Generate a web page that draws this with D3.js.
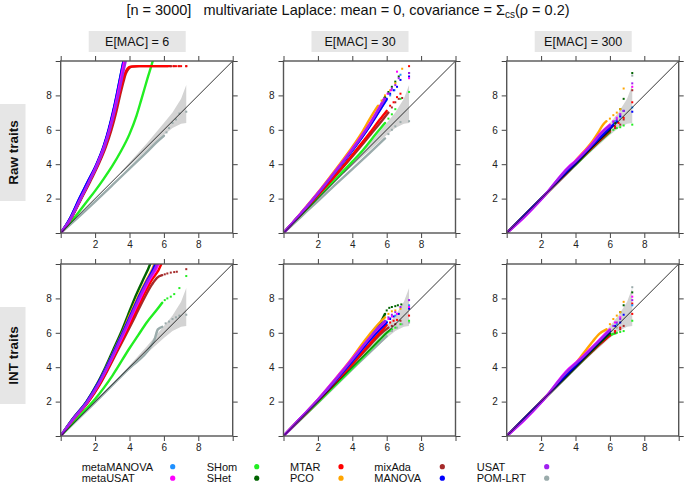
<!DOCTYPE html>
<html><head><meta charset="utf-8">
<script src="https://cdn.jsdelivr.net/npm/d3@7"></script>
<style>body{margin:0;background:#fff}svg{display:block;font-family:"Liberation Sans",Arial,Helvetica,sans-serif}</style>
</head><body><svg id="c" width="685" height="483"></svg>
<script>
// ---------- data ----------
const methods = ["metaMANOVA","metaUSAT","SHom","SHet","MTAR","PCO","mixAda","MANOVA","USAT","POM-LRT"];
const methodColors = ["#1E90FF","#FF00FF","#22EE22","#006400","#FF0000","#FFA500","#A52A2A","#0000FF","#A020F0","#9AABAB"];
const drawOrder = ["POM-LRT","SHom","mixAda","MTAR","metaMANOVA","SHet","PCO","MANOVA","metaUSAT","USAT"];
const macLevels = ["E[MAC] = 6","E[MAC] = 30","E[MAC] = 300"];
const traitTypes = ["Raw traits","INT traits"];
const axisTicks = [0,2,4,6,8,10];
const tickLabels = [2,4,6,8];
const bandX = [3.5,4,4.5,5,5.5,6,6.5,7,7.3];
const bandLower = [3.45,3.9,4.35,4.8,5.25,5.7,6.1,6.35,6.4];
const bandUpper = [3.55,4.1,4.65,5.2,5.8,6.4,7.0,7.8,8.6];

// Raw traits, E[MAC]=6
const raw6Lines = {
  "metaMANOVA":[[0,0],[0.5,0.75],[1.1,2],[1.6,3],[2.1,4],[2.5,5],[2.8,6],[3.05,7],[3.25,8],[3.45,9],[3.65,10],[3.75,10.5]],
  "MANOVA":[[0,0],[0.5,0.78],[1.08,2],[1.58,3],[2.08,4],[2.48,5],[2.78,6],[3.03,7],[3.25,8],[3.45,9],[3.65,10],[3.75,10.5]],
  "SHet":[[0,0],[0.5,0.75],[1.1,2],[1.6,3],[2.1,4],[2.5,5],[2.8,6],[3.05,7],[3.27,8],[3.47,9],[3.67,10],[3.77,10.5]],
  "PCO":[[0,0],[0.5,0.74],[1.12,2],[1.62,3],[2.11,4],[2.51,5],[2.81,6],[3.07,7],[3.28,8],[3.48,9],[3.68,10],[3.78,10.5]],
  "metaUSAT":[[0,0],[0.5,0.7],[1.15,2],[1.65,3],[2.12,4],[2.52,5],[2.83,6],[3.08,7],[3.3,8],[3.5,9],[3.7,10],[3.8,10.5]],
  "USAT":[[0,0],[0.5,0.68],[1.17,2],[1.67,3],[2.15,4],[2.55,5],[2.86,6],[3.12,7],[3.35,8],[3.56,9],[3.78,10],[3.88,10.5]],
  "MTAR":[[0,0],[0.5,0.68],[1.18,2],[1.68,3],[2.17,4],[2.58,5],[2.9,6],[3.17,7],[3.4,8],[3.6,8.8],[3.75,9.3],[3.88,9.55],[4.05,9.67],[4.5,9.7],[6.4,9.7]],
  "mixAda":[[0,0],[0.5,0.66],[1.2,2],[1.72,3],[2.2,4],[2.62,5],[2.95,6],[3.22,7],[3.45,8],[3.65,8.8],[3.8,9.3],[3.95,9.55],[4.15,9.67],[4.6,9.7],[6.2,9.7]],
  "SHom":[[0,0],[0.5,0.55],[1,1.15],[1.5,1.8],[2,2.45],[2.5,3.15],[3,3.9],[3.5,4.75],[4,5.75],[4.4,6.8],[4.7,7.8],[5.05,9],[5.35,10],[5.45,10.4]],
  "POM-LRT":[[0,0],[1,0.9],[2,1.83],[3,2.78],[4,3.74],[5,4.7],[5.6,5.3],[6,5.65]]
};
const raw6Tails = {
  "MTAR":[[6.55,9.7],[6.7,9.7],[6.85,9.7],[7.0,9.7],[7.3,9.7]],
  "mixAda":[[6.4,9.7],[6.6,9.7],[6.9,9.7],[7.3,9.7]],
  "POM-LRT":[[6.15,5.85],[6.3,6.1],[6.5,6.4],[6.7,6.6],[6.9,6.95],[7.3,7.05]]
};

// Raw traits, E[MAC]=30
const raw30Lines = {
  "PCO":[[0,0],[1,1.15],[2,2.35],[3,3.65],[4,5.0],[4.5,5.75],[5,6.6],[5.3,7.1],[5.5,7.4]],
  "USAT":[[0,0],[1,1.12],[2,2.3],[3,3.55],[4,4.85],[5,6.3],[5.6,7.3],[5.9,7.8]],
  "metaUSAT":[[0,0],[1,1.13],[2,2.32],[3,3.58],[4,4.9],[5,6.35],[5.6,7.35],[5.85,7.8]],
  "MANOVA":[[0,0],[1,1.12],[2,2.3],[3,3.55],[4,4.8],[5,6.2],[5.7,7.3],[6,7.8]],
  "metaMANOVA":[[0,0],[1,1.12],[2,2.3],[3,3.54],[4,4.8],[5,6.2],[5.7,7.3],[6,7.75]],
  "SHet":[[0,0],[1,1.12],[2,2.3],[3,3.55],[4,4.85],[5,6.25],[5.6,7.3],[5.9,7.9]],
  "MTAR":[[0,0],[1,1.1],[2,2.2],[3,3.35],[4,4.55],[5,5.8],[5.6,6.6],[6,7.1]],
  "mixAda":[[0,0],[1,1.08],[2,2.18],[3,3.3],[4,4.45],[5,5.65],[5.7,6.5],[6.1,7.0]],
  "SHom":[[0,0],[1,1.03],[2,2.07],[3,3.1],[4,4.15],[4.6,4.8],[5.4,5.8],[5.9,6.4]],
  "POM-LRT":[[0,0],[1,0.93],[2,1.86],[3,2.8],[4,3.72],[5,4.65],[5.9,5.5]]
};
const raw30Tails = {
  "PCO":[[5.7,7.7],[5.9,8.0],[6.2,8.3],[6.5,8.7],[6.9,9.55]],
  "USAT":[[6.1,8.1],[6.3,8.4],[6.5,8.6],[6.7,9.0],[7.3,9.3]],
  "metaUSAT":[[6.05,8.1],[6.25,8.3],[6.6,9.38],[7.3,9.0]],
  "MANOVA":[[6.2,8.1],[6.4,8.3],[6.6,8.5],[6.8,8.9],[7.3,9.1]],
  "metaMANOVA":[[6.2,8.0],[6.45,8.3],[6.8,9.2]],
  "SHet":[[6.1,8.2],[6.3,8.5],[6.5,8.8],[6.7,9.1],[7.3,9.3]],
  "MTAR":[[6.2,7.4],[6.4,7.6],[6.6,7.9],[6.8,8.1],[7.3,9.7]],
  "mixAda":[[6.3,7.3],[6.5,7.6],[6.7,7.8],[6.9,7.85]],
  "SHom":[[6.1,6.65],[6.3,6.9],[6.5,7.2],[6.8,7.8],[7.3,8.2]],
  "POM-LRT":[[6.1,5.75],[6.3,6.0],[6.5,6.2],[6.8,6.45],[7.3,6.5]]
};

// Raw traits, E[MAC]=300
const raw300Lines = {
  "PCO":[[0,0],[2,2],[3.6,3.7],[4,4.2],[4.5,4.75],[5,5.35],[5.3,5.8],[5.6,6.3],[5.8,6.5]],
  "USAT":[[0,0],[1,0.92],[2,1.95],[3.6,3.8],[4,4.15],[4.5,4.65],[5,5.2],[5.5,5.8],[6,6.25]],
  "metaUSAT":[[0,0],[1,0.9],[2,1.93],[3.6,3.85],[4,4.2],[4.5,4.7],[5,5.25],[5.5,5.85],[6,6.3]],
  "MANOVA":[[0,0],[2,2],[3.6,3.65],[4,4.05],[5,5.1],[6,6.1],[6.4,6.5]],
  "metaMANOVA":[[0,0],[2,2],[3.6,3.65],[4,4.05],[5,5.12],[6,6.15]],
  "SHet":[[0,0],[2,2],[3.6,3.62],[4,4.0],[5,5.05],[6,6.0]],
  "MTAR":[[0,0],[2,2],[3.6,3.6],[4,4.0],[5,5.0],[6,5.95]],
  "mixAda":[[0,0],[2,2],[3.6,3.6],[5,4.98],[6,5.9]],
  "SHom":[[0,0],[2,2],[3.6,3.6],[4,3.98],[5,4.95],[5.6,5.5],[6,5.85]],
  "POM-LRT":[[0,0],[2,1.98],[3.6,3.55],[4,3.95],[5,4.95],[6,5.95]]
};
const raw300Tails = {
  "PCO":[[6.0,6.65],[6.2,6.85],[6.4,7.0],[6.6,7.2],[6.8,8.4]],
  "USAT":[[6.2,6.45],[6.4,6.6],[6.6,6.9],[6.8,7.1],[7.3,8.7]],
  "metaUSAT":[[6.2,6.5],[6.4,6.7],[6.6,6.9],[7.3,8.5]],
  "MANOVA":[[6.6,6.8],[6.8,7.1],[7.3,7.05]],
  "metaMANOVA":[[6.3,6.5],[6.6,6.75],[7.3,7.3]],
  "SHet":[[6.3,6.4],[6.6,7.2],[6.8,7.8],[7.3,9.3]],
  "MTAR":[[6.3,6.2],[6.5,6.4],[6.8,6.7],[7.3,7.6]],
  "mixAda":[[6.3,6.1],[6.6,6.3],[6.8,6.6],[7.3,8.3]],
  "SHom":[[6.2,6.0],[6.4,6.1],[6.6,6.15],[6.8,6.25],[7.3,6.3]],
  "POM-LRT":[[6.3,6.3],[6.6,6.6],[7.3,9.15]]
};

// INT traits, E[MAC]=6
const int6Lines = {
  "SHet":[[0,0],[0.7,1],[1.5,2],[2.1,3],[2.6,4],[3.05,5],[3.5,6],[3.9,7],[4.3,8],[4.75,9],[5.2,10],[5.3,10.3]],
  "PCO":[[0,0],[0.72,1],[1.53,2],[2.15,3],[2.65,4],[3.12,5],[3.58,6],[4.0,7],[4.45,8],[4.95,9],[5.45,10],[5.55,10.3]],
  "metaMANOVA":[[0,0],[0.72,1],[1.52,2],[2.14,3],[2.66,4],[3.14,5],[3.6,6],[4.05,7],[4.5,8],[5.0,9],[5.5,10],[5.6,10.3]],
  "MANOVA":[[0,0],[0.71,1],[1.51,2],[2.13,3],[2.65,4],[3.13,5],[3.6,6],[4.05,7],[4.5,8],[5.0,9],[5.5,10],[5.6,10.3]],
  "USAT":[[0,0],[0.74,1],[1.55,2],[2.18,3],[2.7,4],[3.18,5],[3.65,6],[4.1,7],[4.55,8],[5.05,9],[5.6,10],[5.7,10.3]],
  "metaUSAT":[[0,0],[0.75,1],[1.57,2],[2.2,3],[2.73,4],[3.22,5],[3.7,6],[4.15,7],[4.62,8],[5.12,9],[5.68,10],[5.78,10.3]],
  "MTAR":[[0,0],[0.76,1],[1.6,2],[2.25,3],[2.78,4],[3.28,5],[3.78,6],[4.25,7],[4.72,8],[5.25,9],[5.85,10],[5.95,10.3]],
  "mixAda":[[0,0],[0.78,1],[1.62,2],[2.28,3],[2.82,4],[3.33,5],[3.85,6],[4.35,7],[4.85,8],[5.3,8.8],[5.6,9.2],[5.9,9.35]],
  "SHom":[[0,0],[1,1.08],[2,2.15],[3,3.5],[4,5.1],[4.5,5.85],[5,6.6],[5.6,7.35],[5.9,7.75]],
  "POM-LRT":[[0,0],[2,1.96],[4,3.95],[5.2,5.15],[5.45,5.6],[5.65,6.2],[5.9,6.35]]
};
const int6Tails = {
  "mixAda":[[6.05,9.4],[6.2,9.45],[6.4,9.5],[6.6,9.53],[6.75,9.55],[7.3,9.7]],
  "SHom":[[6.05,7.9],[6.2,8.0],[6.4,8.1],[6.6,8.25],[6.9,8.6],[7.3,9.3]],
  "POM-LRT":[[6.1,6.55],[6.3,6.65],[6.5,6.8],[6.7,6.9],[6.9,7.0],[7.3,7.05]]
};

// INT traits, E[MAC]=30
const int30Lines = {
  "PCO":[[0,0],[1,1.05],[2,2.12],[3,3.3],[4,4.55],[4.5,5.25],[5,5.9],[5.5,6.5],[5.9,6.9]],
  "USAT":[[0,0],[1,1.05],[2,2.1],[3,3.25],[4,4.45],[5,5.7],[5.5,6.3],[5.9,6.7]],
  "metaUSAT":[[0,0],[1,1.06],[2,2.12],[3,3.3],[3.5,3.9],[4,4.5],[5,5.7],[5.6,6.35],[5.9,6.65]],
  "MANOVA":[[0,0],[1,1.04],[2,2.08],[3,3.2],[4,4.35],[5,5.55],[5.6,6.2],[6,6.6]],
  "metaMANOVA":[[0,0],[1,1.04],[2,2.08],[3,3.2],[4,4.36],[5,5.58],[5.6,6.25],[6,6.65]],
  "SHet":[[0,0],[1,1.04],[2,2.08],[3,3.2],[4,4.4],[5,5.65],[5.6,6.5],[5.9,7.1]],
  "MTAR":[[0,0],[1,1.02],[2,2.05],[3,3.1],[4,4.2],[5,5.35],[5.5,5.9],[6,6.45]],
  "mixAda":[[0,0],[2,2.03],[4,4.15],[5,5.25],[5.6,5.9],[6.1,6.3]],
  "SHom":[[0,0],[1,0.98],[2,1.95],[3,2.95],[4,3.95],[5,4.98],[5.6,5.6],[6,6.0],[6.3,6.2]],
  "POM-LRT":[[0,0],[2,1.93],[4,3.88],[5,4.85],[6,5.8]]
};
const int30Tails = {
  "PCO":[[6.1,7.1],[6.3,7.25],[6.5,7.3],[6.8,7.4]],
  "USAT":[[6.1,6.9],[6.3,7.05],[6.5,7.2],[6.8,7.5],[7.3,7.9]],
  "metaUSAT":[[6.1,6.8],[6.3,6.95],[6.6,7.1],[7.3,7.5]],
  "MANOVA":[[6.2,6.8],[6.4,6.95],[6.7,7.1],[7.3,7.4]],
  "metaMANOVA":[[6.2,6.85],[6.5,7.0],[7.3,7.6]],
  "SHet":[[6.0,7.3],[6.15,7.45],[6.3,7.5],[6.5,7.55],[6.65,7.6],[6.85,7.65]],
  "MTAR":[[6.2,6.6],[6.4,6.7],[6.6,6.75],[7.3,7.0]],
  "mixAda":[[6.3,6.4],[6.5,6.5],[6.8,6.7]],
  "SHom":[[6.5,6.3],[6.8,6.5],[7.3,6.7]],
  "POM-LRT":[[6.3,6.1],[6.6,6.3],[6.9,6.5],[7.3,6.6]]
};

// INT traits, E[MAC]=300
const int300Lines = {
  "PCO":[[0,0],[2,2.02],[3.6,3.7],[4,4.2],[4.5,4.85],[5,5.5],[5.4,5.95],[5.8,6.2]],
  "USAT":[[0,0],[1,0.92],[2,1.95],[3.6,3.85],[4,4.2],[4.5,4.65],[5,5.15],[5.5,5.65],[6,6.15]],
  "metaUSAT":[[0,0],[1,0.9],[2,1.93],[3.6,3.9],[4,4.25],[4.5,4.7],[5,5.2],[5.5,5.7],[6,6.2]],
  "MANOVA":[[0,0],[2,2],[3.6,3.65],[4,4.05],[5,5.1],[6,6.1]],
  "metaMANOVA":[[0,0],[2,2],[3.6,3.65],[4,4.05],[5,5.1],[6,6.15]],
  "SHet":[[0,0],[2,2],[3.6,3.6],[4,4.0],[5,5.0],[6,5.95]],
  "MTAR":[[0,0],[2,2],[3.6,3.6],[5,4.98],[6,5.85]],
  "mixAda":[[0,0],[2,2],[3.6,3.6],[5,4.95],[6,5.85]],
  "SHom":[[0,0],[2,2],[3.6,3.6],[5,4.95],[6,5.85],[6.4,6.0]],
  "POM-LRT":[[0,0],[2,1.98],[3.6,3.55],[5,4.95],[6,5.95]]
};
const int300Tails = {
  "PCO":[[6.0,6.5],[6.2,6.8],[6.4,7.0],[6.6,7.2],[6.8,7.8]],
  "USAT":[[6.2,6.4],[6.4,6.6],[6.6,6.8],[7.3,7.9]],
  "metaUSAT":[[6.3,6.6],[6.6,6.9],[7.3,8.1]],
  "MANOVA":[[6.3,6.4],[6.6,6.6],[6.8,7.05]],
  "metaMANOVA":[[6.4,6.5],[7.3,7.6]],
  "SHet":[[6.6,7.2],[6.8,7.6],[7.3,8.35]],
  "MTAR":[[6.3,6.1],[6.6,6.3],[7.3,7.1],[7.3,7.7]],
  "mixAda":[[6.3,6.0],[6.6,6.2],[6.8,6.4]],
  "SHom":[[6.6,6.05],[6.8,6.1],[7.3,6.7]],
  "POM-LRT":[[6.4,6.3],[7.3,8.65]]
};

// ---------- layout ----------
const svg = d3.select("#c");
const colorOf = d3.scaleOrdinal().domain(methods).range(methodColors);
const P = 172;
const colX = [60.7, 283.5, 506.7];
const rowY = [61, 264];
const panels = [
  {r:0,c:0,lines:raw6Lines,tails:raw6Tails},
  {r:0,c:1,lines:raw30Lines,tails:raw30Tails},
  {r:0,c:2,lines:raw300Lines,tails:raw300Tails},
  {r:1,c:0,lines:int6Lines,tails:int6Tails},
  {r:1,c:1,lines:int30Lines,tails:int30Tails},
  {r:1,c:2,lines:int300Lines,tails:int300Tails}
];

// title
const title = svg.append("text").attr("x",348).attr("y",15).attr("text-anchor","middle")
  .style("font-size","14.5px").style("white-space","pre").attr("fill","#111");
title.append("tspan").text("[n = 3000]   multivariate Laplace: mean = 0, covariance = Σ");
title.append("tspan").attr("dy",3).style("font-size","10px").text("cs");
title.append("tspan").attr("dy",-3).text("(ρ = 0.2)");

// strips (column headers)
macLevels.forEach((lab,i)=>{
  const cx = colX[i] + P/2 - 9.5;
  svg.append("rect").attr("x",cx-48.5).attr("y",31).attr("width",97).attr("height",21).attr("fill","#E6E6E6");
  svg.append("text").attr("x",cx).attr("y",46).attr("text-anchor","middle").style("font-size","12.5px").attr("fill","#111").text(lab);
});
// row strips
traitTypes.forEach((lab,i)=>{
  const cy = rowY[i] + P/2 + 5.5;
  svg.append("rect").attr("x",0).attr("y",cy-48.5).attr("width",25.5).attr("height",97).attr("fill","#E6E6E6");
  svg.append("text").attr("transform",`translate(17.5,${cy}) rotate(-90)`).attr("text-anchor","middle")
    .style("font-size","13.5px").style("font-weight","bold").attr("fill","#111").text(lab);
});

const defs = svg.append("defs");
panels.forEach((p,pi)=>{
  const x0 = colX[p.c], y0 = rowY[p.r];
  const x = d3.scaleLinear().domain([0,10]).range([x0, x0+P]);
  const y = d3.scaleLinear().domain([0,10]).range([y0+P, y0]);
  defs.append("clipPath").attr("id","clip"+pi).append("rect").attr("x",x0).attr("y",y0).attr("width",P).attr("height",P);
  const g = svg.append("g").attr("clip-path",`url(#clip${pi})`);
  // confidence band
  const band = d3.area().x((d,i)=>x(bandX[i])).y0((d,i)=>y(bandLower[i])).y1((d,i)=>y(bandUpper[i]));
  g.append("path").datum(bandX).attr("d",band).attr("fill","#D3D3D3");
  const line = d3.line().x(d=>x(d[0])).y(d=>y(d[1])).curve(d3.curveMonotoneX);
  drawOrder.forEach(m=>{
    const pts = p.lines[m];
    if (pts) g.append("path").datum(pts).attr("d",line).attr("fill","none")
      .attr("stroke",colorOf(m)).attr("stroke-width",2.4).attr("stroke-linejoin","round").attr("stroke-linecap","round");
  });
  drawOrder.forEach(m=>{
    const t = p.tails[m];
    if (t) g.selectAll(null).data(t).enter().append("rect")
      .attr("x",d=>x(d[0])-1).attr("y",d=>y(d[1])-1).attr("width",2).attr("height",2).attr("fill",colorOf(m));
  });
  // diagonal
  g.append("line").attr("x1",x(0)).attr("y1",y(0)).attr("x2",x(10)).attr("y2",y(10)).attr("stroke","#000").attr("stroke-width",0.8);
  // axes
  const fmt = d => tickLabels.includes(d) ? d : "";
  const axStyle = sel => { sel.select(".domain").remove(); sel.selectAll("line").attr("stroke","#444");
    sel.selectAll("text").style("font-size","10px").attr("fill","#222").style("font-family","'Liberation Sans',Arial,sans-serif"); };
  svg.append("g").attr("transform",`translate(0,${y0+P})`).call(d3.axisBottom(x).tickValues(axisTicks).tickFormat(fmt).tickSize(5).tickPadding(3)).call(axStyle);
  svg.append("g").attr("transform",`translate(0,${y0})`).call(d3.axisTop(x).tickValues(axisTicks).tickFormat("").tickSize(5)).call(axStyle);
  svg.append("g").attr("transform",`translate(${x0},0)`).call(d3.axisLeft(y).tickValues(axisTicks).tickFormat(fmt).tickSize(5).tickPadding(4)).call(axStyle);
  svg.append("g").attr("transform",`translate(${x0+P},0)`).call(d3.axisRight(y).tickValues(axisTicks).tickFormat("").tickSize(5)).call(axStyle);
  svg.append("rect").attr("x",x0).attr("y",y0).attr("width",P).attr("height",P).attr("fill","none").attr("stroke","#555").attr("stroke-width",1.4);
});

// legend
const legTextX = [81.7, 206.7, 290, 374.3, 476.7];
const legDotX = [172.7, 256.7, 341, 442.3, 546.7];
const legY = [470.5, 482];
methods.forEach((m,i)=>{
  const col = Math.floor(i/2), row = i%2;
  svg.append("text").attr("x",legTextX[col]).attr("y",legY[row]).style("font-size","11px").attr("fill","#111").text(m);
  svg.append("circle").attr("cx",legDotX[col]).attr("cy",legY[row]-3.8).attr("r",2.6).attr("fill",colorOf(m));
});
</script></body></html>
